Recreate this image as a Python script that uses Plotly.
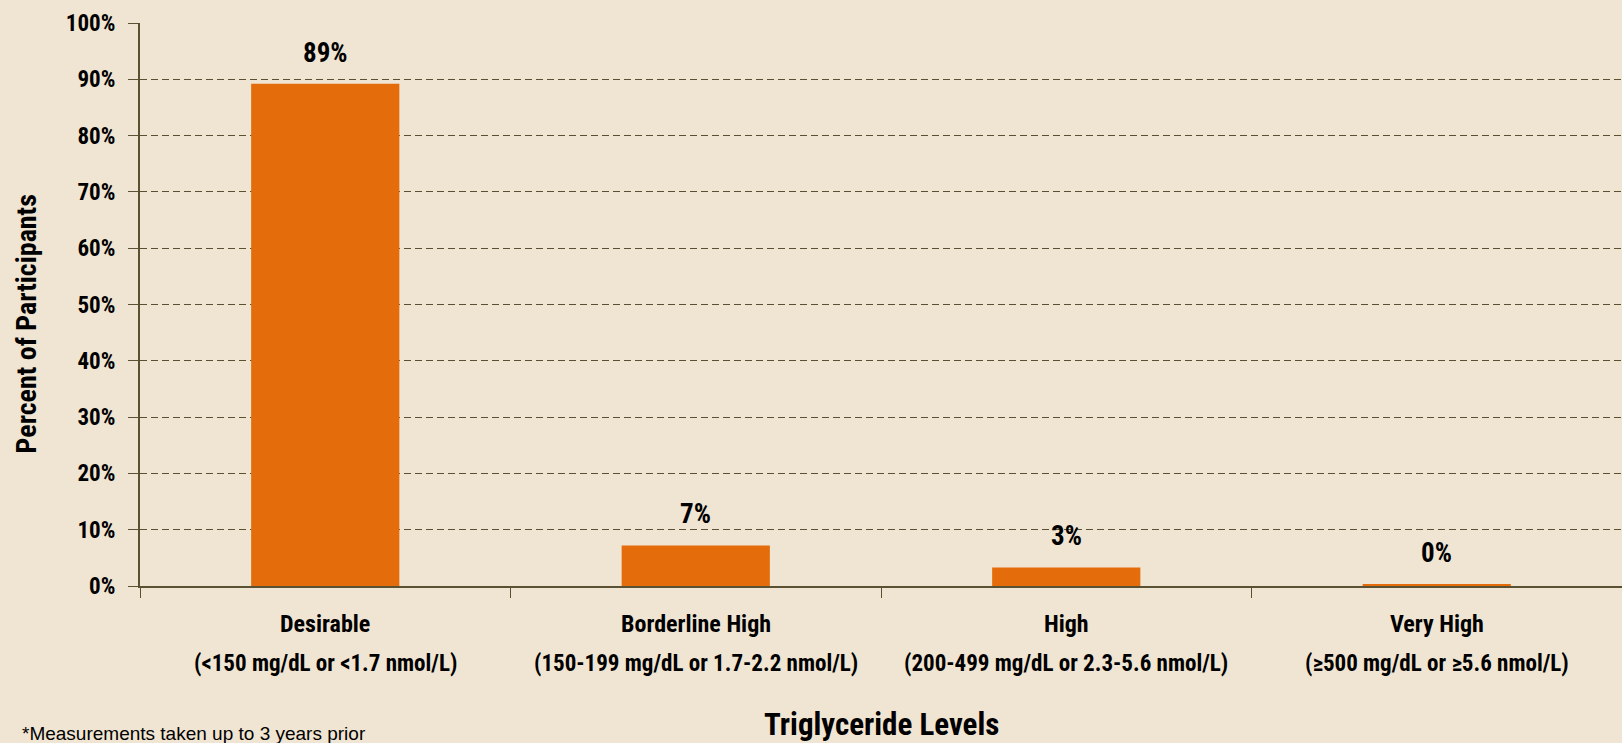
import plotly.graph_objects as go

category_names = ["Desirable", "Borderline High", "High", "Very High"]
category_ranges = [
    "(<150 mg/dL or <1.7 nmol/L)",
    "(150-199 mg/dL or 1.7-2.2 nmol/L)",
    "(200-499 mg/dL or 2.3-5.6 nmol/L)",
    "(≥500 mg/dL or ≥5.6 nmol/L)",
]
values = [89.2, 7.2, 3.3, 0.3]
labels = ["89%", "7%", "3%", "0%"]
y_ticks = [0, 10, 20, 30, 40, 50, 60, 70, 80, 90, 100]
y_tick_text = [f"{v}%" for v in y_ticks]

FONT = "Roboto Condensed, Open Sans Condensed, DejaVu Sans Condensed, sans-serif"
BG = "#F0E5D2"
AXIS = "#5A5032"
BAR = "#E46C0A"
BLACK = "#000000"

fig = go.Figure()
fig.add_trace(go.Bar(
    x=category_names, y=values, marker=dict(color=BAR, line=dict(width=0)),
    width=0.4, hoverinfo="skip",
))

# value labels above bars
for c, v, t in zip(category_names, values, labels):
    fig.add_annotation(x=c, y=v, text=t, showarrow=False, yanchor="bottom",
                       yshift=13, font=dict(family=FONT, size=27, weight="bold", color=BLACK))

# two-line category labels
for c, r in zip(category_names, category_ranges):
    fig.add_annotation(x=c, yref="paper", y=0, text=c, showarrow=False, yanchor="middle",
                       yshift=-38, font=dict(family=FONT, size=24, weight="bold", color=BLACK))
    fig.add_annotation(x=c, yref="paper", y=0, text=r, showarrow=False, yanchor="middle",
                       yshift=-77, font=dict(family=FONT, size=23, weight="bold", color=BLACK))

# axis titles
fig.add_annotation(xref="paper", yref="paper", x=0.5, y=0, yshift=-138, text="Triglyceride Levels",
                   showarrow=False, yanchor="middle", xanchor="center",
                   font=dict(family=FONT, size=31, weight="bold", color=BLACK))
fig.add_annotation(xref="paper", yref="paper", x=0, xshift=-114, y=0.5, yshift=-20,
                   text="Percent of Participants", textangle=-90,
                   showarrow=False, yanchor="middle", xanchor="center",
                   font=dict(family=FONT, size=28, weight="bold", color=BLACK))
# footnote
fig.add_annotation(xref="paper", yref="paper", x=0, xshift=-120, y=0, yshift=-135,
                   text="*Measurements taken up to 3 years prior",
                   showarrow=False, yanchor="top", xanchor="left",
                   font=dict(family="Liberation Sans, Arial, sans-serif", size=19, color=BLACK))

fig.update_layout(
    width=1622, height=743,
    paper_bgcolor=BG, plot_bgcolor=BG,
    margin=dict(l=140, r=0, t=23, b=157),
    showlegend=False,
    xaxis=dict(
        showline=True, linecolor=AXIS, linewidth=2,
        ticks="outside", tickson="boundaries", ticklen=10, tickcolor=AXIS, tickwidth=1,
        showticklabels=False, showgrid=False,
    ),
    yaxis=dict(
        range=[0, 100], tickvals=y_ticks, ticktext=y_tick_text,
        showline=True, linecolor=AXIS, linewidth=2,
        ticks="outside", ticklen=10, tickcolor=AXIS, tickwidth=1,
        ticklabelstandoff=8,
        tickfont=dict(family=FONT, size=23, weight="bold", color=BLACK),
        showgrid=True, gridcolor=AXIS, griddash="7px,4px", gridwidth=1,
        zeroline=False,
    ),
)
fig.write_html("out.html", config={"displayModeBar": False},
               post_script="document.body.style.margin='0';")
